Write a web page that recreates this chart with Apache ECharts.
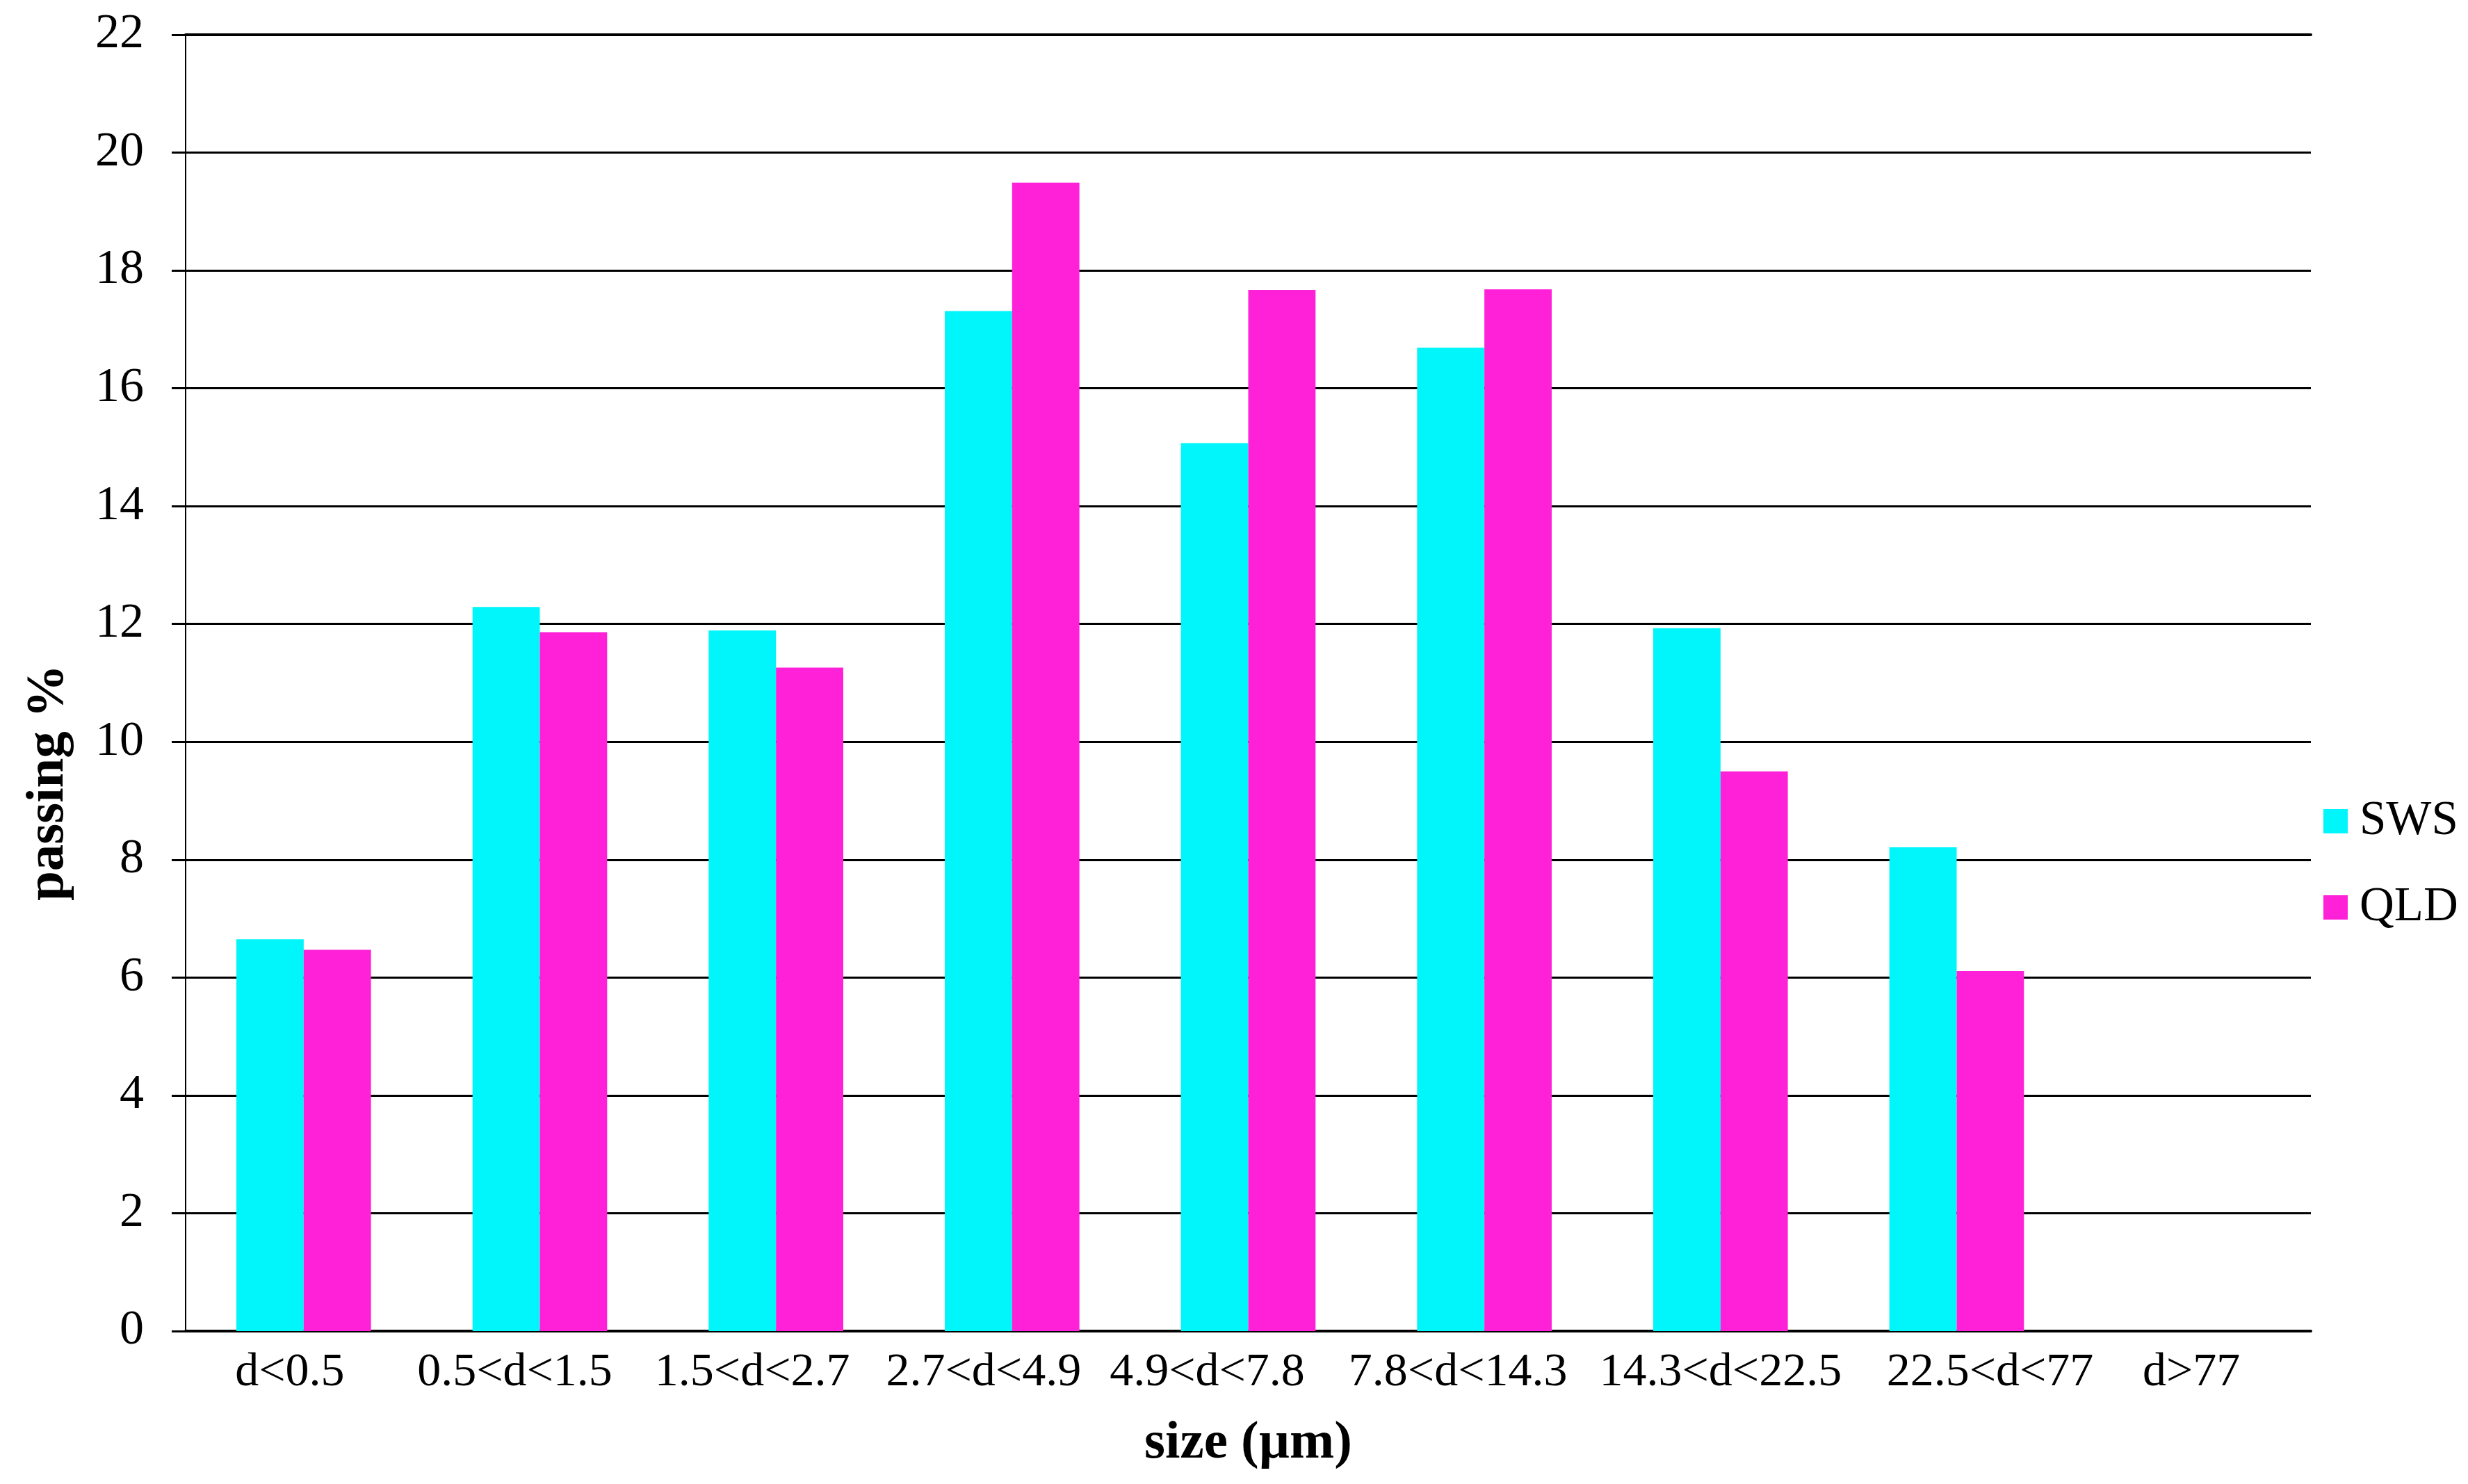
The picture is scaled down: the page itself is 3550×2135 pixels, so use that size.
<!DOCTYPE html>
<html>
<head>
<meta charset="utf-8">
<script src="https://cdn.jsdelivr.net/npm/echarts@6/dist/echarts.min.js"></script>
<style>
html,body{margin:0;padding:0;background:#fff;}
#chart{width:3550px;height:2135px;}
</style>
</head>
<body>
<div id="chart"></div>
<script>
const categories = ['d<0.5','0.5<d<1.5','1.5<d<2.7','2.7<d<4.9','4.9<d<7.8','7.8<d<14.3','14.3<d<22.5','22.5<d<77','d>77'];
const swsValues = [6.65, 12.29, 11.89, 17.31, 15.07, 16.69, 11.93, 8.21, 0];
const qldValues = [6.47, 11.86, 11.26, 19.49, 17.67, 17.68, 9.50, 6.11, 0];
const yTicks = [0, 22, 2]; // min, max, interval
const seriesNames = ['SWS', 'QLD'];
const xTitle = 'size (µm)';
const yTitle = 'passing %';

// horizontal / vertical nudges of the category labels (px), as laid out in the original
const labelShiftX = [-20, -36, -34, -41, -59, -38, 0, 48, -2];
const labelShiftY = [0, 0, -14, 0, 0, 0, 0, 0, 0];

const FONT = '"Liberation Serif", "Times New Roman", serif';
const chart = echarts.init(document.getElementById('chart'), null, {renderer: 'canvas'});

const xData = categories.map(function (c, i) {
  const dx = labelShiftX[i], dy = labelShiftY[i];
  const padL = dx > 0 ? 2 * dx : 0;
  const padR = dx < 0 ? -2 * dx : 0;
  const padB = dy < 0 ? -dy : 0;
  const padT = dy > 0 ? dy : 0;
  return {value: c, textStyle: {padding: [padT, padR, padB, padL]}};
});

chart.setOption({
  backgroundColor: '#ffffff',
  animation: false,
  grid: {left: 267, right: 226, top: 50, bottom: 220, containLabel: false},
  legend: {
    orient: 'vertical',
    left: 3337,
    top: 1142,
    itemWidth: 35,
    itemHeight: 35,
    itemGap: 55,
    icon: 'rect',
    data: seriesNames,
    textStyle: {fontFamily: FONT, fontSize: 69, color: '#000', padding: [0, 0, 0, 12]}
  },
  xAxis: [{
    type: 'category',
    data: xData,
    position: 'bottom',
    name: xTitle,
    nameLocation: 'middle',
    nameGap: 124,
    nameTextStyle: {fontFamily: FONT, fontSize: 77, fontWeight: 'bold', color: '#000'},
    axisLine: {show: true, lineStyle: {color: '#000', width: 4}},
    axisTick: {show: false},
    axisLabel: {fontFamily: FONT, fontSize: 68, color: '#000', margin: 26, interval: 0}
  }, {
    type: 'category',
    data: categories,
    position: 'top',
    axisLine: {show: true, lineStyle: {color: '#000', width: 4}},
    axisTick: {show: false},
    axisLabel: {show: false}
  }],
  yAxis: {
    type: 'value',
    min: yTicks[0],
    max: yTicks[1],
    interval: yTicks[2],
    axisLine: {show: true, lineStyle: {color: '#000', width: 2}},
    axisTick: {show: true, inside: false, length: 20, lineStyle: {color: '#000', width: 3}},
    axisLabel: {fontFamily: FONT, fontSize: 70, color: '#000', margin: 60},
    splitLine: {show: true, lineStyle: {color: '#000', width: 3}}
  },
  graphic: [{
    type: 'text',
    x: 70,
    y: 1126,
    rotation: Math.PI / 2,
    style: {
      text: yTitle,
      fontFamily: FONT,
      fontSize: 77,
      fontWeight: 'bold',
      fill: '#000',
      align: 'center',
      verticalAlign: 'middle'
    }
  }],
  series: [{
    name: seriesNames[0],
    type: 'bar',
    data: swsValues,
    barGap: '0%',
    barCategoryGap: '43%',
    itemStyle: {color: '#00F6FA'}
  }, {
    name: seriesNames[1],
    type: 'bar',
    data: qldValues,
    barGap: '0%',
    barCategoryGap: '43%',
    itemStyle: {color: '#FF21D7'}
  }]
});
</script>
</body>
</html>
